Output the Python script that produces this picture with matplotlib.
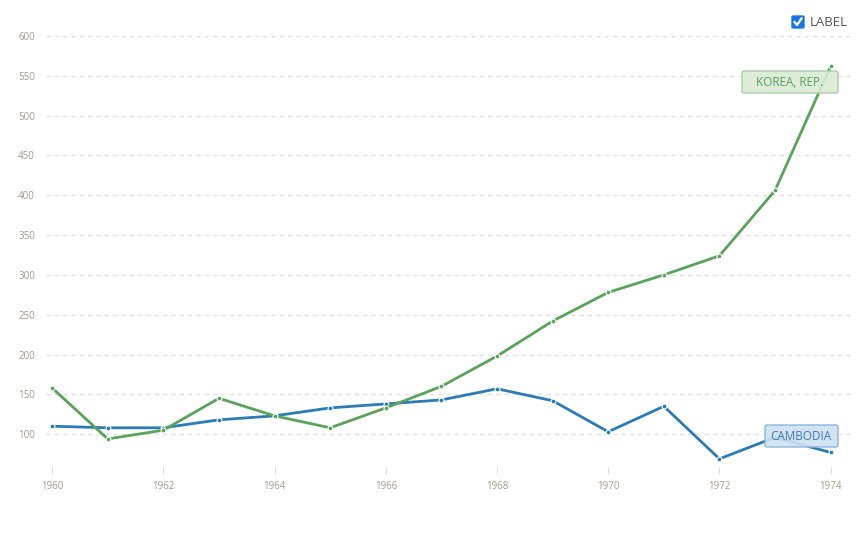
import matplotlib
matplotlib.use("Agg")
import matplotlib.pyplot as plt
from matplotlib.patches import FancyBboxPatch
from matplotlib.lines import Line2D

years = list(range(1960, 1975))
korea = [158, 94, 105, 145, 123, 108, 133, 160, 198, 242, 278, 300, 324, 406, 562]
cambodia = [110, 108, 108, 118, 123, 133, 138, 143, 157, 142, 103, 135, 69, 96, 77]
yticks = [100, 150, 200, 250, 300, 350, 400, 450, 500, 550, 600]
xticks = [1960, 1962, 1964, 1966, 1968, 1970, 1972, 1974]

plt.rcParams['font.family'] = ['Open Sans', 'DejaVu Sans']

W, H = 865, 556
fig = plt.figure(figsize=(8.65, 5.56), dpi=100)
ax = fig.add_axes([0.0532, 0.1475, 0.9328, 0.7878])

blue = '#2b7bb9'
green = '#5ba25b'
tickc = '#a39a90'

for s, c in ((cambodia, blue), (korea, green)):
    ax.plot(years, s, color=c, lw=2, marker='o', ms=3.5, mfc=c, mec='white', mew=0.8, zorder=3)

ax.set_xlim(1959.89, 1974.4)
ax.set_ylim(50, 600)
ax.set_yticks(yticks)
ax.set_xticks(xticks)
ax.set_xticklabels([str(x) for x in xticks])
ax.grid(axis='y', color='#e0e0e0', ls=(0, (3, 3)), lw=1)
ax.tick_params(axis='y', length=0, labelsize=7, labelcolor=tickc, pad=8)
ax.tick_params(axis='x', length=5, color='#dddddd', labelsize=7, labelcolor=tickc, pad=5, direction='in')
for sp in ax.spines.values():
    sp.set_visible(False)

def fx(px): return px / W
def fy(py): return 1 - py / H

# series labels
p1 = FancyBboxPatch((fx(742), fy(93)), 96 / W, 22 / H,
                    boxstyle='round,pad=0,rounding_size=0.003', transform=fig.transFigure,
                    fc=(0.855, 0.925, 0.84, 0.9), ec='#a9d0a2', lw=1, zorder=5, clip_on=False)
ax.add_patch(p1)
ax.text(1973.26, 542, 'KOREA, REP.', ha='center', va='center', fontsize=8.5, color='#5a9e5a', zorder=6)
p2 = FancyBboxPatch((fx(765), fy(447)), 73 / W, 22 / H,
                    boxstyle='round,pad=0,rounding_size=0.003', transform=fig.transFigure,
                    fc=(0.81, 0.88, 0.945, 0.9), ec='#8db7dc', lw=1, zorder=5, clip_on=False)
ax.add_patch(p2)
ax.text(1973.46, 97.5, 'CAMBODIA', ha='center', va='center', fontsize=8.5, color='#3a78b4', zorder=6)

# checkbox legend
box = FancyBboxPatch((fx(792), fy(28)), 12 / W, 12 / H, boxstyle='round,pad=0,rounding_size=0.002',
                     transform=fig.transFigure, fc='#1a73e8', ec='#1a73e8')
fig.patches.append(box)
fig.lines.append(Line2D([fx(794.5), fx(797), fx(801.5)], [fy(22), fy(25), fy(18.5)],
                        transform=fig.transFigure, color='white', lw=1.6))
fig.text(fx(810), fy(22), 'LABEL', ha='left', va='center', fontsize=9.5, color='#555555')

fig.savefig('out.png', dpi=100)
